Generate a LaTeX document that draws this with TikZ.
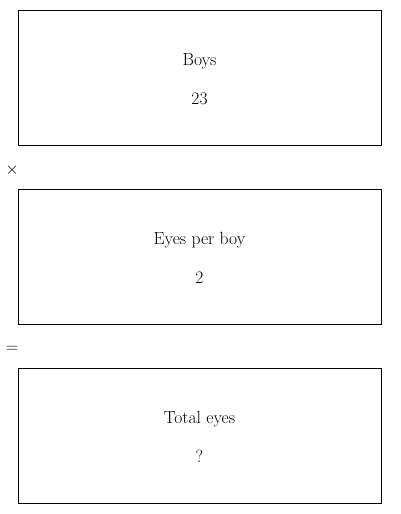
\documentclass[tikz,border=0pt]{standalone}
\begin{document}
\begin{tikzpicture}[x=1pt,y=-1pt,
  boxstyle/.style={draw=black,line width=0.9pt},
  txt/.style={font=\fontsize{17.6}{20}\selectfont,inner sep=0pt,anchor=center},
  optxt/.style={font=\fontsize{16}{18}\selectfont,inner sep=0pt,anchor=center}]
\useasboundingbox (0,0) rectangle (400,514);
\draw[boxstyle] (18,10) rectangle (381,145);
\draw[boxstyle] (18,189) rectangle (381,324);
\draw[boxstyle] (18,368) rectangle (381,503);
\node[txt] (l1) at (199.5,61.5) {\strut Boys};
\node[txt] (v1) at (199.5,100.5) {\strut 23};
\node[optxt] (op1) at (12,170.5) {$\times$};
\node[txt] (l2) at (199.5,240.5) {\strut Eyes per boy};
\node[txt] (v2) at (199.5,279.5) {\strut 2};
\node[optxt] (op2) at (12,349.5) {$=$};
\node[txt] (l3) at (199.5,419.5) {\strut Total eyes};
\node[txt] (v3) at (199.5,458.5) {\strut ?};
\end{tikzpicture}
\end{document}
